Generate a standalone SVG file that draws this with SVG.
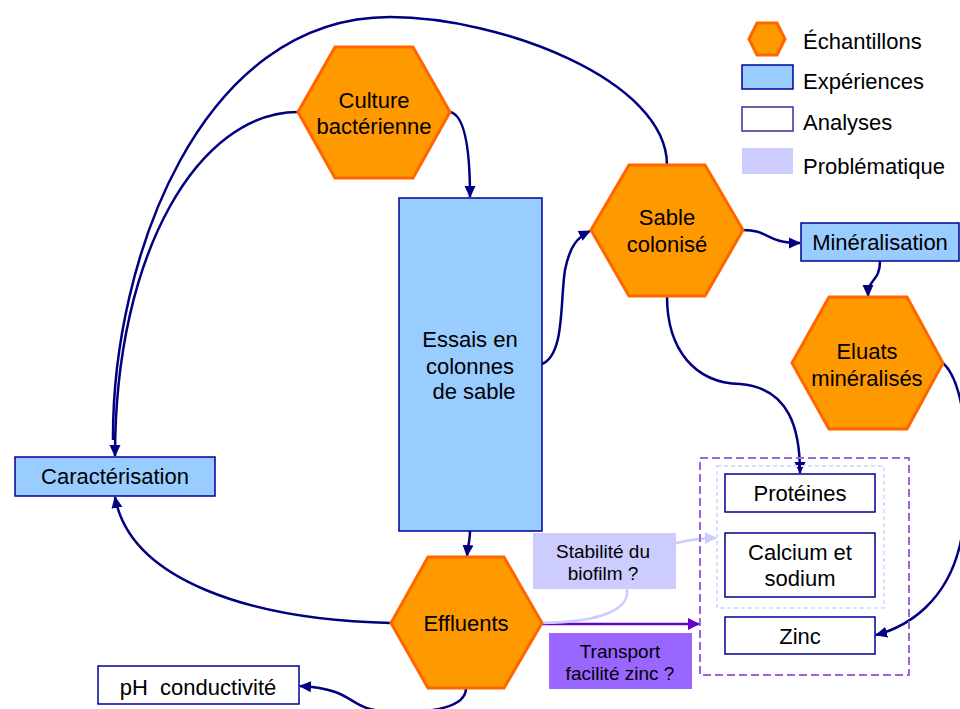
<svg xmlns="http://www.w3.org/2000/svg" width="960" height="709" viewBox="0 0 960 709">
<defs>
<style>
text{font-family:"Liberation Sans",Arial,sans-serif;font-size:22px;fill:#000;text-anchor:middle;white-space:pre}
.hex{fill:#FF9900;stroke:#FF6600;stroke-width:3;stroke-linejoin:miter}
.exp{fill:#99CCFF;stroke:#000099;stroke-width:1.5}
.ana{fill:#fff;stroke:#000099;stroke-width:1.5}
.conn{fill:none;stroke:#000080;stroke-width:2.5}
.lt{text-anchor:start}
.sm{font-size:19px}
</style>
<marker id="ah" markerWidth="12" markerHeight="12" refX="11" refY="6" orient="auto" markerUnits="userSpaceOnUse" viewBox="0 0 12 12">
<path d="M0,0.5 L12,6 L0,11.5 z" fill="#000080"/>
</marker>
<marker id="ahp" markerWidth="12" markerHeight="12" refX="11" refY="6" orient="auto" markerUnits="userSpaceOnUse" viewBox="0 0 12 12">
<path d="M0,0 L12,6 L0,12 z" fill="#6600CC"/>
</marker>
<marker id="ahl" markerWidth="12" markerHeight="12" refX="11" refY="6" orient="auto" markerUnits="userSpaceOnUse" viewBox="0 0 12 12">
<path d="M0,0 L12,6 L0,12 z" fill="#CCCCFF"/>
</marker>
</defs>
<rect width="960" height="709" fill="#fff"/>

<g id="connectors">
<path class="conn" d="M450,112 C465,115 470,150 470,197" marker-end="url(#ah)"/>
<path class="conn" d="M298,112 C200,112 115,250 115,456" marker-end="url(#ah)"/>
<path class="conn" d="M667,165 C667,80 500,17 390,17 C200,17 112,260 113,440"/>
<path class="conn" d="M542,364 C565,355 560,300 565,270 C570,245 578,237 590,231" marker-end="url(#ah)"/>
<path class="conn" d="M743,230 C770,230 765,243 800,243" marker-end="url(#ah)"/>
<path class="conn" d="M880,261 C880,282 868,278 868,296" marker-end="url(#ah)"/>
<path class="conn" d="M667,296 C667,350 695,383 740,384 C790,388 800,430 800,473" marker-end="url(#ah)"/>
<path class="conn" d="M943,363 C972,390 970,500 960,545 C947,600 910,626 876,635" marker-end="url(#ah)"/>
<path class="conn" d="M470,531 C470,540 468,545 467,556" marker-end="url(#ah)"/>
<path class="conn" d="M391,623 C250,620 130,580 115,497" marker-end="url(#ah)"/>
<path class="conn" d="M466,688 C466,705 440,712 400,712 C340,712 365,690 300,686" marker-end="url(#ah)"/>
<path d="M542,624 L699,624" fill="none" stroke="#6600CC" stroke-width="2.5" marker-end="url(#ahp)"/>
<path d="M542,623 C600,622 630,610 627,589" fill="none" stroke="#CCCCFF" stroke-width="2.5"/>
<path d="M676,543 C690,540 700,538 716,538" fill="none" stroke="#CCCCFF" stroke-width="2.5" marker-end="url(#ahl)"/>
</g>

<g id="groupe-analyses">
<rect x="700" y="458" width="209" height="217" fill="none" stroke="#9966DD" stroke-width="2" stroke-dasharray="8,4"/>
<rect x="717" y="466" width="167" height="142" fill="none" stroke="#DDDDFF" stroke-width="2" stroke-dasharray="4,3"/>
</g>

<g id="culture">
<polygon class="hex" points="298,112 335,47 413,47 450,112 413,178 335,178"/>
<text x="374" y="108">Culture</text>
<text x="374" y="134">bactérienne</text>
</g>

<g id="sable">
<polygon class="hex" points="591,230 629,165 705,165 743,230 705,296 629,296"/>
<text x="667" y="225">Sable</text>
<text x="667" y="252">colonisé</text>
</g>

<g id="eluats">
<polygon class="hex" points="792,363 829,297 907,297 943,363 907,429 829,429"/>
<text x="867" y="359">Eluats</text>
<text x="867" y="386">minéralisés</text>
</g>

<g id="effluents">
<polygon class="hex" points="391,623 428,557 504,557 542,623 504,688 428,688"/>
<text x="466" y="631">Effluents</text>
</g>

<g id="essais">
<rect class="exp" x="399" y="198" width="143" height="333"/>
<text x="470" y="347">Essais en</text>
<text x="470" y="374">colonnes</text>
<text x="474" y="399">de sable</text>
</g>

<g id="mineralisation">
<rect class="exp" x="801" y="223" width="158" height="38"/>
<text x="880" y="250">Minéralisation</text>
</g>

<g id="caracterisation">
<rect class="exp" x="15" y="457" width="200" height="39"/>
<text x="115" y="484">Caractérisation</text>
</g>

<g id="ph">
<rect class="ana" x="98" y="666" width="201" height="38"/>
<text x="198" y="695">pH  conductivité</text>
</g>

<g id="proteines">
<rect class="ana" x="725" y="474" width="150" height="38"/>
<text x="800" y="501">Protéines</text>
</g>

<g id="calcium">
<rect class="ana" x="725" y="533" width="150" height="64"/>
<text x="800" y="560">Calcium et</text>
<text x="800" y="586">sodium</text>
</g>

<g id="zinc">
<rect class="ana" x="725" y="617" width="150" height="37"/>
<text x="800" y="644">Zinc</text>
</g>

<g id="stabilite">
<rect x="533" y="533" width="143" height="56" fill="#CCCCFF"/>
<text class="sm" x="603" y="558">Stabilité du</text>
<text class="sm" x="603" y="580">biofilm ?</text>
</g>

<g id="transport">
<rect x="549" y="633" width="143" height="56" fill="#9966FF"/>
<text class="sm" x="620" y="658">Transport</text>
<text class="sm" x="620" y="680">facilité zinc ?</text>
</g>

<g id="legende">
<polygon class="hex" points="749,39 757,23 777,23 785,39 777,55 757,55"/>
<text class="lt" x="803" y="49">Échantillons</text>
<rect class="exp" x="742" y="65" width="51" height="24"/>
<text class="lt" x="803" y="89">Expériences</text>
<rect x="742" y="107" width="51" height="24" fill="#fff" stroke="#333399" stroke-width="1.5"/>
<text class="lt" x="803" y="130">Analyses</text>
<rect x="742" y="148" width="51" height="26" fill="#CCCCFF"/>
<text class="lt" x="803" y="174">Problématique</text>
</g>
</svg>
